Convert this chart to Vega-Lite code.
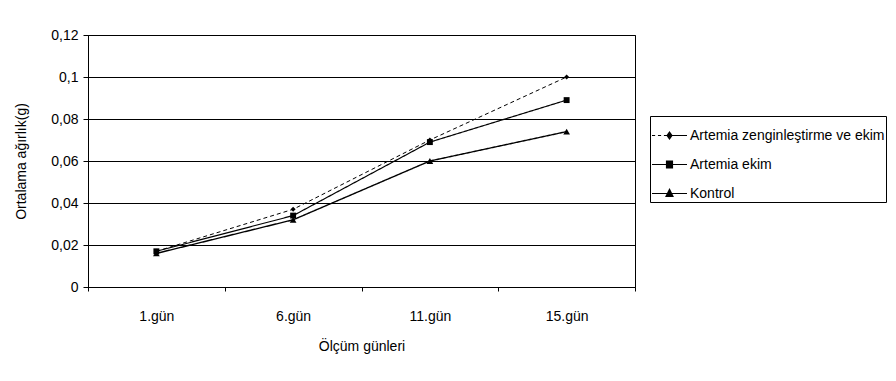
{
  "$schema": "https://vega.github.io/schema/vega-lite/v6.json",
  "width": 547,
  "height": 252,
  "autosize": {"type": "none"},
  "padding": {"left": 88, "top": 35, "right": 261, "bottom": 94},
  "background": "white",
  "config": {
    "font": "Liberation Sans",
    "view": {"stroke": "black", "strokeWidth": 1}
  },
  "data": {
    "values": [
      {"day": "1.gün", "series": "Artemia zenginleştirme ve ekim", "value": 0.017},
      {"day": "6.gün", "series": "Artemia zenginleştirme ve ekim", "value": 0.037},
      {"day": "11.gün", "series": "Artemia zenginleştirme ve ekim", "value": 0.070},
      {"day": "15.gün", "series": "Artemia zenginleştirme ve ekim", "value": 0.100},
      {"day": "1.gün", "series": "Artemia ekim", "value": 0.017},
      {"day": "6.gün", "series": "Artemia ekim", "value": 0.034},
      {"day": "11.gün", "series": "Artemia ekim", "value": 0.069},
      {"day": "15.gün", "series": "Artemia ekim", "value": 0.089},
      {"day": "1.gün", "series": "Kontrol", "value": 0.016},
      {"day": "6.gün", "series": "Kontrol", "value": 0.032},
      {"day": "11.gün", "series": "Kontrol", "value": 0.060},
      {"day": "15.gün", "series": "Kontrol", "value": 0.074}
    ]
  },
  "encoding": {
    "x": {
      "field": "day",
      "type": "ordinal",
      "sort": ["1.gün", "6.gün", "11.gün", "15.gün"],
      "bandPosition": 0.5,
      "scale": {"type": "band", "paddingInner": 0, "paddingOuter": 0},
      "axis": {
        "title": "Ölçüm günleri",
        "labelAngle": 0,
        "labelFontSize": 14,
        "labelColor": "black",
        "labelPadding": 18,
        "tickBand": "extent",
        "tickSize": 4,
        "tickColor": "black",
        "domainColor": "black",
        "grid": false,
        "titleFontSize": 14,
        "titleFontWeight": "normal",
        "titleColor": "black",
        "titlePadding": 16
      }
    },
    "y": {
      "field": "value",
      "type": "quantitative",
      "scale": {"domain": [0, 0.12], "nice": false},
      "axis": {
        "title": "Ortalama ağırlık(g)",
        "values": [0, 0.02, 0.04, 0.06, 0.08, 0.1, 0.12],
        "labelExpr": "replace(format(datum.value, '.2~f'), '.', ',')",
        "labelFontSize": 14,
        "labelColor": "black",
        "labelPadding": 5,
        "tickSize": 5,
        "tickColor": "black",
        "domainColor": "black",
        "grid": true,
        "gridColor": "black",
        "gridOpacity": 1,
        "gridWidth": 1,
        "titleFontSize": 14,
        "titleFontWeight": "normal",
        "titleColor": "black",
        "titlePadding": 22
      }
    }
  },
  "layer": [
    {
      "mark": {"type": "line", "color": "black"},
      "encoding": {
        "detail": {"field": "series"},
        "strokeDash": {
          "field": "series",
          "scale": {
            "domain": ["Artemia zenginleştirme ve ekim", "Artemia ekim", "Kontrol"],
            "range": [[4, 3], [1, 0], [1, 0]]
          },
          "legend": null
        },
        "strokeWidth": {
          "field": "series",
          "scale": {
            "domain": ["Artemia zenginleştirme ve ekim", "Artemia ekim", "Kontrol"],
            "range": [1, 1.4, 2]
          },
          "legend": null
        }
      }
    },
    {
      "mark": {"type": "point", "filled": true, "color": "black", "opacity": 1},
      "encoding": {
        "shape": {
          "field": "series",
          "scale": {
            "domain": ["Artemia zenginleştirme ve ekim", "Artemia ekim", "Kontrol"],
            "range": ["diamond", "square", "triangle-up"]
          },
          "legend": null
        },
        "size": {
          "field": "series",
          "scale": {
            "domain": ["Artemia zenginleştirme ve ekim", "Artemia ekim", "Kontrol"],
            "range": [25, 45, 55]
          },
          "legend": null
        }
      }
    },
    {
      "mark": {"type": "point", "filled": false, "color": "black", "opacity": 0, "size": 1225, "strokeWidth": 1.2},
      "encoding": {
        "shape": {
          "field": "series",
          "scale": {
            "domain": ["Artemia zenginleştirme ve ekim", "Artemia ekim", "Kontrol"],
            "range": [
              "M-1,0H-0.82M-0.66,0H-0.48M-0.32,0H-0.14M0.14,0H1M0,-0.2L0.14,0L0,0.2L-0.14,0ZM-0.14,0H0.14M-0.07,-0.1H0.07M-0.1,-0.05H0.1M-0.1,0.05H0.1M-0.07,0.1H0.07",
              "M-1,0H1M-0.17,-0.2H0.17V0.2H-0.17ZM-0.17,-0.14H0.17M-0.17,-0.08H0.17M-0.17,-0.03H0.17M-0.17,0.03H0.17M-0.17,0.08H0.17M-0.17,0.14H0.17",
              "M-1,0H1M0,-0.24L0.2,0.17H-0.2ZM-0.05,-0.14H0.05M-0.08,-0.08H0.08M-0.1,-0.03H0.1M-0.13,0.03H0.13M-0.16,0.08H0.16M-0.18,0.12H0.18"
            ]
          },
          "legend": {
            "title": null,
            "orient": "none",
            "legendX": 562,
            "legendY": 81,
            "symbolSize": 1225,
            "symbolOpacity": 1,
            "symbolStrokeColor": "black",
            "symbolFillColor": "black",
            "symbolStrokeWidth": 1.2,
            "labelFontSize": 14,
            "labelColor": "black",
            "labelOffset": 2,
            "labelLimit": 300,
            "rowPadding": 3,
            "padding": 1,
            "strokeColor": "black",
            "fillColor": "white"
          }
        }
      }
    }
  ],
  "resolve": {"scale": {"shape": "independent"}, "legend": {"shape": "independent"}}
}
